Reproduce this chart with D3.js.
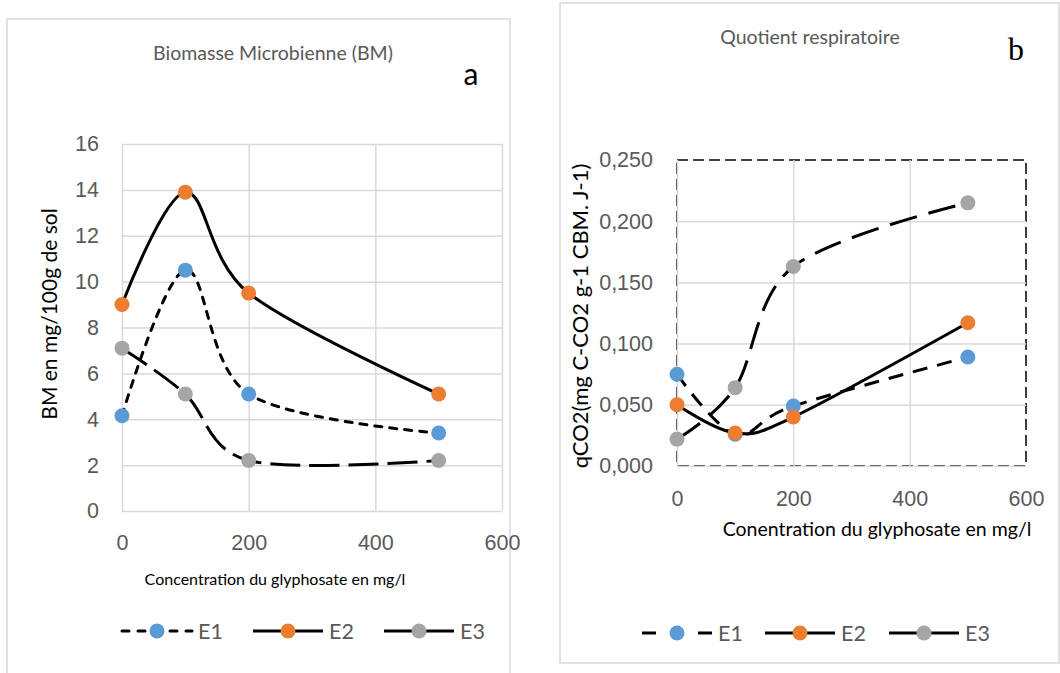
<!DOCTYPE html>
<html>
<head>
<meta charset="utf-8">
<script src="https://cdn.jsdelivr.net/npm/d3@7"></script>
<style>
  body { margin: 0; background: #fff; }
  svg { display: block; font-family: Lato, "Open Sans", sans-serif; }
</style>
</head>
<body>
<svg id="chart" width="1060" height="673"></svg>
<script>
// DATA
const concentrations = [0, 100, 200, 500];
const seriesNames = ["E1", "E2", "E3"];
const seriesColors = ["#5B9BD5", "#ED7D31", "#A5A5A5"];

const bmE1 = [4.15, 10.5, 5.1, 3.4];
const bmE2 = [9.0, 13.9, 9.5, 5.1];
const bmE3 = [7.1, 5.1, 2.2, 2.2];

const qE1 = [0.075, 0.026, 0.049, 0.089];
const qE2 = [0.050, 0.027, 0.040, 0.117];
const qE3 = [0.022, 0.064, 0.163, 0.215];

const xTicks = [0, 200, 400, 600];
const bmTicks = [0, 2, 4, 6, 8, 10, 12, 14, 16];
const qTicks = [0, 0.05, 0.1, 0.15, 0.2, 0.25];

const grid = "#d9d9d9", labelGrey = "#595959";
const frLocale = d3.formatLocale({decimal: ",", thousands: " ", grouping: [3], currency: ["", "€"]});

const svg = d3.select("#chart");

// panel frames
svg.append("rect").attr("x", 7).attr("y", 19).attr("width", 503).attr("height", 700)
  .attr("fill", "none").attr("stroke", grid).attr("stroke-width", 1.5);
svg.append("rect").attr("x", 560).attr("y", 3).attr("width", 499).attr("height", 660)
  .attr("fill", "none").attr("stroke", grid).attr("stroke-width", 1.5);

const drawPanel = (p) => {
  const x = d3.scaleLinear().domain([0, 600]).range([p.left, p.right]);
  const y = d3.scaleLinear().domain(p.yDomain).range([p.bottom, p.top]);
  const w = p.right - p.left, h = p.bottom - p.top;
  const g = svg.append("g");

  if (p.dashedFrame) {
    g.append("rect").attr("x", p.left).attr("y", p.top).attr("width", w).attr("height", h)
      .attr("fill", "none").attr("stroke", "#000").attr("stroke-width", 1.5)
      .attr("stroke-dasharray", "11,5");
  }

  // y grid + labels
  const yAx = g.append("g").attr("transform", `translate(${p.left},0)`)
    .call(d3.axisLeft(y).tickValues(p.yTicks).tickSize(-w).tickPadding(p.yPad).tickFormat(p.yFormat));
  yAx.select(".domain").remove();
  yAx.selectAll("line").attr("stroke", grid).attr("stroke-width", 1.5)
    .filter(d => p.dashedFrame && d === p.yDomain[1]).remove();
  yAx.selectAll("text").attr("fill", labelGrey).style("font-size", p.tickFont + "px");

  // x grid + labels
  const xAx = g.append("g").attr("transform", `translate(0,${p.bottom})`)
    .call(d3.axisBottom(x).tickValues(xTicks).tickSize(-h).tickPadding(p.xPad));
  xAx.select(".domain").remove();
  xAx.selectAll("line").attr("stroke", grid).attr("stroke-width", 1.5)
    .filter(d => p.dashedFrame && d === 600).remove();
  xAx.selectAll("text").attr("fill", labelGrey).style("font-size", p.tickFont + "px");

  // series
  const line = d3.line().x((d, i) => x(concentrations[i])).y(d => y(d)).curve(d3.curveCardinal.tension(0));
  p.series.forEach((vals, si) => {
    g.append("path").attr("d", line(vals)).attr("fill", "none")
      .attr("stroke", "#000").attr("stroke-width", 3)
      .attr("stroke-dasharray", p.dashes[si]).attr("stroke-linecap", p.caps[si]);
    g.selectAll(null).data(vals).enter().append("circle")
      .attr("cx", (d, i) => x(concentrations[i])).attr("cy", d => y(d)).attr("r", 7.5)
      .attr("fill", seriesColors[si]);
  });

  // titles
  svg.append("text").attr("x", p.titleX).attr("y", p.titleY).attr("text-anchor", "middle")
    .attr("fill", labelGrey).style("font-size", p.titleFont + "px").text(p.title);
  svg.append("text").attr("x", p.xTitleX).attr("y", p.xTitleY).attr("text-anchor", "middle")
    .attr("fill", "#000").style("font-size", p.xTitleFont + "px").text(p.xTitle);
  svg.append("text").attr("transform", `translate(${p.yTitleX},${p.yTitleY}) rotate(-90)`)
    .attr("text-anchor", "middle").attr("fill", "#000").style("font-size", p.yTitleFont + "px")
    .text(p.yTitle);
  svg.append("text").attr("x", p.tagX).attr("y", p.tagY).attr("text-anchor", "middle")
    .style("font-family", p.tagFamily).style("font-size", p.tagFont + "px").text(p.tag);

  // legend
  const lg = svg.append("g");
  seriesNames.forEach((name, si) => {
    const lx = p.legendX[si];
    lg.append("line").attr("x1", lx).attr("x2", lx + 70).attr("y1", p.legendY).attr("y2", p.legendY)
      .attr("stroke", "#000").attr("stroke-width", 3)
      .attr("stroke-dasharray", p.legendDashes[si]).attr("stroke-linecap", p.caps[si]);
    lg.append("circle").attr("cx", lx + 35).attr("cy", p.legendY).attr("r", 7.5).attr("fill", seriesColors[si]);
    lg.append("text").attr("x", lx + 76).attr("y", p.legendY).attr("dy", "0.35em")
      .attr("fill", labelGrey).style("font-size", p.tickFont + "px").text(name);
  });
};

drawPanel({
  left: 122, right: 502, top: 144, bottom: 511,
  yDomain: [0, 16], yTicks: bmTicks, yFormat: d3.format("d"), yPad: 23, xPad: 24, tickFont: 21.5,
  series: [bmE1, bmE2, bmE3],
  dashes: ["7,8", null, "30,9"], caps: ["round", "butt", "butt"],
  title: "Biomasse Microbienne (BM)", titleX: 273, titleY: 60, titleFont: 19.5,
  xTitle: "Concentration du glyphosate en mg/l", xTitleX: 275, xTitleY: 585, xTitleFont: 16,
  yTitle: "BM en mg/100g de sol", yTitleX: 57, yTitleY: 314, yTitleFont: 21,
  tag: "a", tagX: 471, tagY: 85, tagFont: 30, tagFamily: "Lato",
  legendX: [122, 253, 384], legendY: 631, legendDashes: ["7,9", null, null],
  dashedFrame: false
});

drawPanel({
  left: 677, right: 1026, top: 160, bottom: 466,
  yDomain: [0, 0.25], yTicks: qTicks, yFormat: frLocale.format(".3f"), yPad: 24, xPad: 25, tickFont: 21.5,
  series: [qE1, qE2, qE3],
  dashes: ["15,10", null, "28,12"], caps: ["butt", "butt", "butt"],
  title: "Quotient respiratoire", titleX: 810, titleY: 44, titleFont: 19.5,
  xTitle: "Conentration du glyphosate en mg/l", xTitleX: 877, xTitleY: 536, xTitleFont: 19.5,
  yTitle: "qCO2(mg C-CO2 g-1 CBM. J-1)", yTitleX: 588, yTitleY: 316, yTitleFont: 22,
  tag: "b", tagX: 1016, tagY: 60, tagFont: 32, tagFamily: "Liberation Serif",
  legendX: [642, 765, 889], legendY: 633, legendDashes: ["14,42", null, null],
  dashedFrame: true
});
</script>
</body>
</html>
